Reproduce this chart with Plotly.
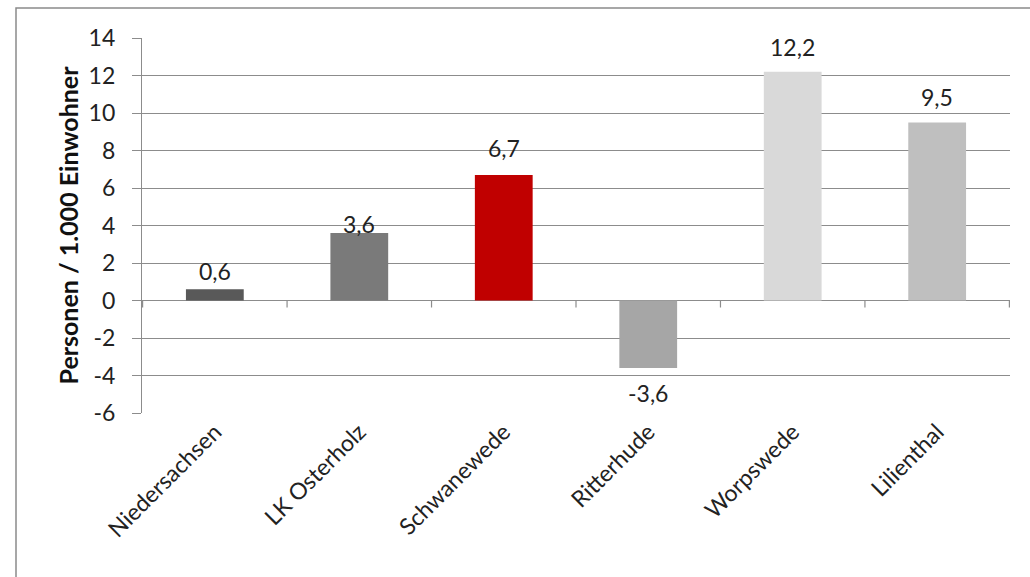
import plotly.graph_objects as go

# Wanderungssaldo je 1.000 Einwohner
regionen = ["Niedersachsen", "LK Osterholz", "Schwanewede", "Ritterhude", "Worpswede", "Lilienthal"]
saldo = [0.6, 3.6, 6.7, -3.6, 12.2, 9.5]
farben = ["#595959", "#7a7a7a", "#c00000", "#a6a6a6", "#d9d9d9", "#bfbfbf"]
y_ticks = [-6, -4, -2, 0, 2, 4, 6, 8, 10, 12, 14]

# pixel distance of each value label from the bar end
label_abstand = [18, 9, 27, 25, 25, 25]

W, H = 1030, 577
ML, MR, MT, MB = 142, 20, 38, 164
FONT = "Lato, Open Sans, sans-serif"
GRID = "#8c8c8c"

labels = [f"{v:.1f}".replace(".", ",") for v in saldo]

fig = go.Figure(
    go.Bar(
        x=regionen,
        y=saldo,
        marker=dict(color=farben, line=dict(width=0)),
        width=0.4,
        hoverinfo="x+y",
    )
)

# value labels above positive bars, below negative ones
for reg, v, lab, d in zip(regionen, saldo, labels, label_abstand):
    fig.add_annotation(
        x=reg, y=v, text=lab, showarrow=False,
        yanchor="middle", yshift=d if v >= 0 else -d,
        font=dict(family=FONT, size=23, color="#222"),
    )

pw = W - ML - MR
ph = H - MT - MB

shapes = []
# tick marks on the zero line between categories
for i in range(len(regionen) + 1):
    shapes.append(dict(
        type="line", xref="x", yref="y", x0=i - 0.5, x1=i - 0.5,
        ysizemode="pixel", yanchor=0, y0=0, y1=-7,
        line=dict(color=GRID, width=1.2),
    ))
# outer chart frame
shapes.append(dict(
    type="rect", xref="paper", yref="paper",
    x0=(16 - ML) / pw, x1=(W + 20 - ML) / pw,
    y0=-(H + 20 - MT - ph) / ph, y1=1 + (MT - 8) / ph,
    line=dict(color="#8a8a8a", width=1.5), fillcolor="rgba(0,0,0,0)",
    layer="below",
))

fig.update_layout(
    width=W, height=H,
    margin=dict(l=ML, r=MR, t=MT, b=MB),
    paper_bgcolor="white", plot_bgcolor="white",
    showlegend=False,
    bargap=0.6,
    font=dict(family=FONT, color="#222"),
    shapes=shapes,
    xaxis=dict(
        tickangle=-45,
        tickfont=dict(family=FONT, size=23, color="#222"),
        showgrid=False, showline=False, ticks="",
        zeroline=False,
    ),
    yaxis=dict(
        range=[-6, 14],
        tickvals=y_ticks,
        ticktext=[str(t) for t in y_ticks],
        tickfont=dict(family=FONT, size=23, color="#222"),
        showgrid=True, gridcolor=GRID, gridwidth=1.2,
        zeroline=True, zerolinecolor=GRID, zerolinewidth=1.2,
        showline=True, linecolor=GRID, linewidth=1.2,
        ticks="outside", ticklen=9, tickcolor=GRID,
        ticklabelstandoff=12,
        title=dict(text="<b>Personen / 1.000 Einwohner</b>",
                   font=dict(family=FONT, size=25, color="#111"), standoff=2),
    ),
)

fig.write_html("out.html")
